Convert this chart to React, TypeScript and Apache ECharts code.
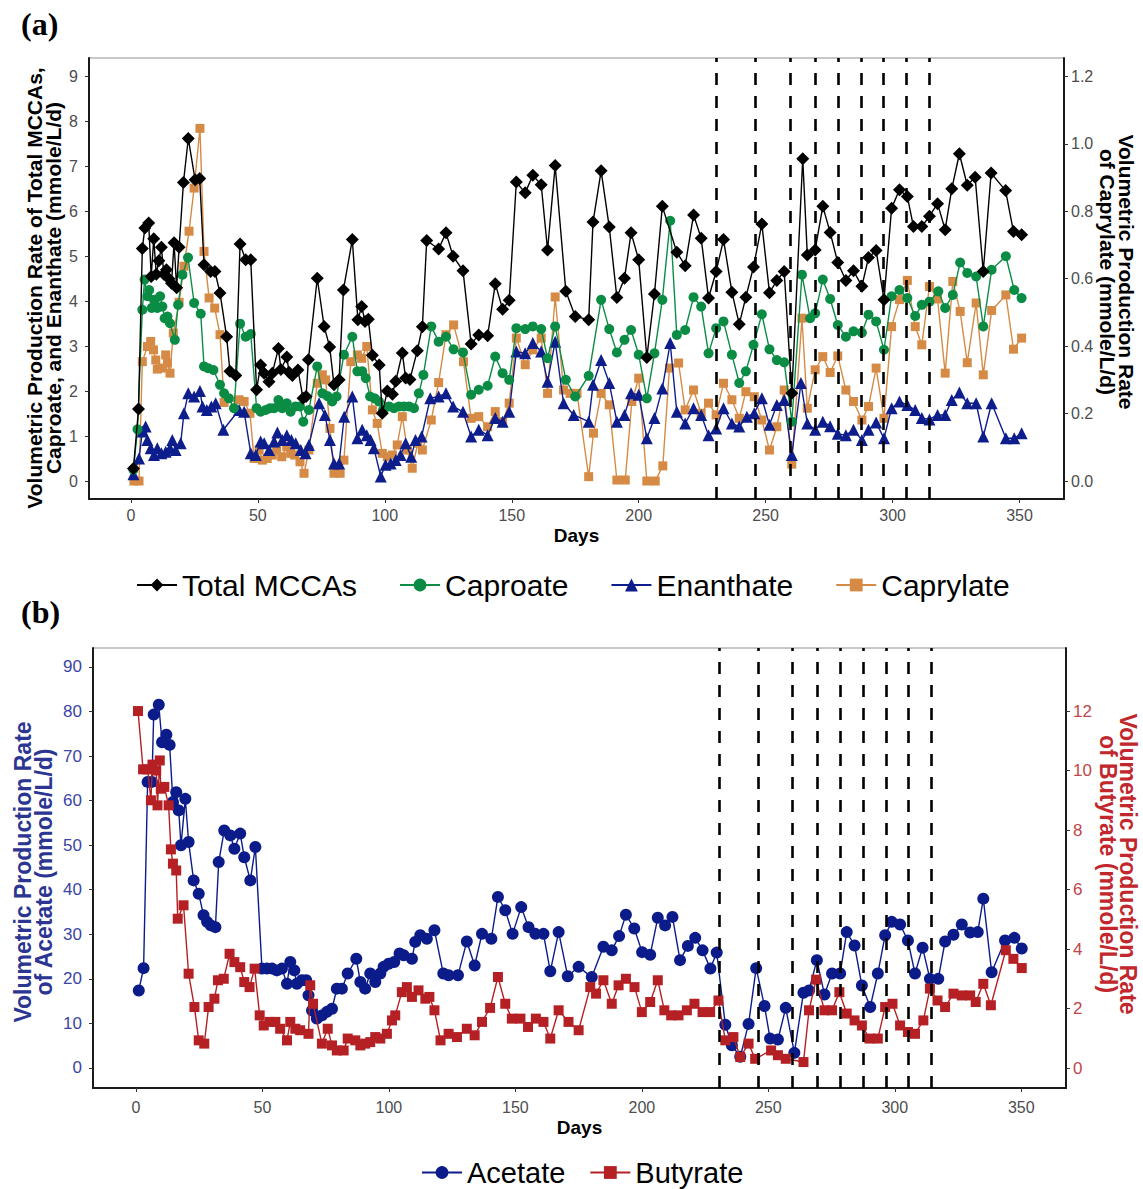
import React, { useEffect, useRef } from "react";
import * as echarts from "echarts";

// ---------- Panel (a) data ----------
const mccaDays = [1, 3, 4.5, 5.5, 7, 8, 9, 10, 11, 12, 13, 14, 15, 16, 17, 18, 19, 20.7, 22.6, 25.3, 27.1, 28.8, 31.4, 33.1, 35.1, 37.7, 39, 41.3, 43, 45.2, 47.2, 49.5, 51.1, 52.5, 54.4, 55.7, 58.1, 59.1, 61.4, 62.3, 63.6, 65.8, 67.8, 69, 69.9, 73.4, 76.1, 78.3, 80, 82, 83.7, 87.2, 89.4, 90.9, 92.2, 93.5, 95.1, 97.8, 99, 101, 103, 104.3, 106.9, 108.2, 109.9, 112.8, 114.8, 116.5, 121.2, 124.1, 126.9, 130.8, 134, 137, 140.5, 143.5, 146.4, 149, 151.8, 155.3, 158.3, 161.6, 164.1, 167.1, 171.3, 175, 180.3, 182, 185.2, 188.4, 191.4, 194.4, 197, 200, 203.2, 206.2, 209.3, 215, 218.3, 221.6, 224.6, 227.5, 230.5, 233.4, 236.7, 239.6, 242.2, 245.2, 248.5, 251.5, 254.4, 257.3, 260.3, 264.6, 266.4, 269.5, 272.5, 275.4, 278.4, 281.6, 284.6, 287.9, 290.5, 293.5, 296.6, 299.6, 302.7, 305.8, 308.2, 311.5, 314.5, 317.7, 320.7, 323.3, 326.3, 329.4, 332.5, 335.7, 338.8, 344.5, 347.6, 350.8];
const mccaValues = [0.28, 1.6, 5.17, 5.63, 5.74, 4.55, 5.39, 4.6, 4.9, 5.2, 4.6, 4.7, 4.5, 4.4, 5.3, 4.3, 5.2, 6.64, 7.62, 6.7, 6.73, 4.81, 4.66, 4.66, 4.18, 3.21, 2.44, 2.35, 5.27, 4.92, 4.92, 2.03, 2.58, 2.4, 2.21, 2.4, 2.95, 2.48, 2.76, 2.42, 2.35, 2.47, 1.84, 1.88, 2.7, 4.51, 3.44, 2.98, 2.14, 2.25, 4.25, 5.37, 3.59, 3.88, 3.55, 3.6, 2.8, 2.58, 1.51, 2.0, 1.93, 2.22, 2.85, 2.29, 2.26, 2.9, 3.43, 5.35, 5.16, 5.52, 5.0, 4.68, 3.05, 3.25, 3.23, 4.39, 3.82, 4.02, 6.65, 6.41, 6.8, 6.59, 5.14, 7.02, 4.22, 3.66, 3.59, 5.76, 6.9, 5.65, 4.08, 4.51, 5.52, 4.92, 2.75, 4.16, 6.11, 5.09, 4.79, 5.92, 5.4, 4.07, 4.66, 5.37, 4.2, 3.49, 4.09, 4.76, 5.72, 4.19, 4.46, 4.66, 1.95, 7.17, 5.03, 5.14, 6.11, 5.53, 4.86, 4.46, 4.68, 4.33, 4.97, 5.13, 4.03, 6.07, 6.48, 6.33, 5.66, 5.66, 5.89, 6.17, 5.59, 6.5, 7.28, 6.58, 6.76, 4.66, 6.85, 6.46, 5.55, 5.48];

const caproateDays = [1, 2.6, 4.5, 5.4, 6.5, 7.2, 8.2, 9.1, 10.4, 11.5, 12.4, 13.3, 14.4, 15.4, 17.3, 18.6, 20.3, 22.5, 24.9, 27.5, 28.8, 30.4, 32.5, 35.1, 36.7, 38.6, 40.6, 43, 45.2, 47.2, 49.5, 51.1, 53.1, 54.8, 56.4, 58.1, 59.6, 61.4, 62.9, 64.9, 66.6, 67.9, 70.1, 73.4, 75.4, 77.4, 79.3, 81, 83.9, 87.2, 89.2, 91.1, 92.5, 94.2, 96, 97.7, 99.3, 101.6, 103.6, 105.6, 107.5, 109.5, 111.5, 113.4, 115.2, 118.3, 121.2, 124.1, 127.1, 130.8, 134, 137, 140.5, 143.5, 146.4, 149, 151.8, 155.3, 158.3, 161.6, 164.1, 167.1, 171.3, 175, 180.3, 185.2, 188.4, 191.4, 194.4, 197, 200, 203.2, 206.2, 209.3, 212.4, 215, 218.3, 221.6, 224.6, 227.5, 230.5, 233.4, 236.7, 239.6, 242.2, 245.2, 248.5, 251.5, 254.4, 257.3, 260.3, 264.3, 267.5, 269.5, 272.5, 275.4, 278.4, 281.6, 284.6, 287.9, 290.5, 293.5, 296.6, 299.6, 302.7, 305.8, 308.9, 311.5, 314.5, 318, 320.7, 323.7, 326.6, 329.4, 332.9, 335.7, 339, 344.6, 347.9, 350.8];
const caproateValues = [0.25, 1.15, 3.81, 4.48, 4.11, 4.25, 3.85, 4.03, 3.85, 4.11, 3.88, 3.62, 3.66, 3.51, 3.14, 3.92, 4.59, 4.97, 3.96, 3.72, 2.55, 2.51, 2.47, 2.14, 1.95, 1.84, 1.62, 3.5, 3.21, 3.27, 1.62, 1.54, 1.58, 1.62, 1.62, 1.8, 1.62, 1.73, 1.54, 1.66, 1.66, 1.32, 1.58, 2.55, 1.95, 1.89, 1.77, 1.88, 2.81, 3.21, 2.44, 2.44, 2.29, 1.88, 1.84, 1.77, 1.58, 1.66, 1.62, 1.66, 1.66, 1.66, 1.62, 1.95, 2.36, 3.44, 3.1, 3.21, 2.93, 2.86, 1.92, 2.03, 2.12, 2.77, 2.4, 2.25, 3.4, 3.38, 3.44, 3.38, 2.73, 3.44, 2.25, 1.88, 2.34, 4.03, 3.38, 2.86, 3.14, 3.36, 2.81, 1.84, 2.84, 4.03, 5.79, 3.25, 3.36, 4.09, 3.88, 2.84, 3.4, 3.55, 2.81, 2.18, 2.44, 3.03, 3.71, 2.93, 2.69, 2.64, 1.32, 4.59, 3.62, 3.73, 4.48, 4.05, 3.47, 3.21, 3.33, 3.3, 3.7, 3.55, 2.92, 4.11, 4.25, 4.07, 3.67, 3.92, 3.99, 4.22, 3.85, 4.14, 4.86, 4.63, 4.55, 3.44, 4.7, 5.0, 4.25, 4.07];

const enanthateDays = [1, 3.2, 4.5, 5.8, 6.5, 7.8, 9.1, 10.4, 12, 13.7, 15.4, 16.3, 17.6, 19.6, 20.9, 22.6, 24.9, 27.2, 28.2, 29.9, 31.7, 33.4, 36.4, 42.6, 44.6, 47.2, 49.2, 51.1, 52.5, 54.4, 56.4, 57.7, 59.6, 61.4, 63.2, 64.9, 66.9, 68.8, 70.1, 74.1, 76.4, 78.4, 80, 82, 84, 87.2, 89.2, 91.1, 92.9, 94.4, 95.7, 98.4, 100.3, 102.3, 104.3, 106.2, 108.2, 110.4, 112.1, 114.5, 117.9, 121.2, 124.1, 126.9, 130.8, 134, 137, 140.5, 143.5, 146.4, 149, 151.8, 155.3, 158.3, 161.6, 164.1, 167.1, 170.4, 174.4, 180.3, 182, 185.2, 188.4, 191.4, 194.4, 197, 200, 203.2, 206.2, 209.3, 212.4, 215, 218.3, 221.6, 224.6, 227.5, 230.5, 233.4, 236.7, 239.6, 242.6, 245.5, 248.5, 251.5, 254.4, 257.3, 260.3, 263.9, 266.4, 269.5, 272.5, 275.4, 278.4, 281.6, 284.6, 287.9, 290.5, 293.5, 296.6, 299.6, 302.7, 305.8, 308.9, 311.5, 314.5, 317.7, 320.7, 323.3, 326.3, 329.4, 332.9, 335.7, 339, 344.6, 347.9, 350.8];
const enanthateValues = [0.15, 0.5, 1.1, 1.21, 0.91, 0.73, 0.58, 0.73, 0.62, 0.65, 0.73, 0.91, 0.69, 0.84, 1.51, 1.95, 1.88, 2.0, 1.66, 1.58, 1.66, 1.73, 1.14, 1.58, 1.54, 0.62, 0.58, 0.88, 0.84, 0.69, 0.88, 1.08, 0.91, 1.02, 0.91, 0.84, 0.69, 0.62, 0.8, 1.73, 1.47, 0.91, 0.39, 0.39, 1.43, 1.88, 0.95, 1.14, 1.02, 0.91, 0.73, 0.1, 0.36, 0.39, 0.47, 0.58, 0.84, 0.54, 0.91, 0.99, 1.84, 1.88, 1.95, 1.66, 1.54, 0.99, 1.14, 1.02, 1.4, 1.32, 1.54, 2.88, 2.84, 3.07, 2.88, 2.21, 3.1, 1.73, 1.47, 1.32, 2.14, 2.69, 2.18, 1.32, 1.47, 1.95, 1.92, 0.95, 1.4, 2.06, 3.07, 1.54, 1.28, 1.62, 1.47, 1.02, 1.17, 1.62, 1.28, 1.21, 1.43, 1.51, 1.84, 1.25, 1.69, 1.8, 0.58, 2.18, 1.28, 1.14, 1.32, 1.22, 1.05, 1.02, 1.14, 0.91, 1.14, 1.3, 0.95, 1.62, 1.77, 1.69, 1.58, 1.4, 1.37, 1.47, 1.47, 1.8, 1.97, 1.73, 1.73, 0.99, 1.73, 0.95, 0.95, 1.06];

const caprylateDays = [1.2, 3.2, 4.5, 6.5, 7.8, 8.9, 9.8, 10.4, 12.4, 13.7, 14.4, 15.4, 16.7, 19, 20.9, 22.9, 24.9, 27.2, 28.8, 30.8, 33, 35.1, 36.7, 42.6, 44.6, 46.9, 48.5, 50.5, 51.8, 53.7, 55.7, 57.4, 59.4, 61.4, 62.9, 64.5, 66.6, 68.2, 70.1, 73.4, 75.4, 76.7, 78.4, 80, 82.4, 83.9, 86.6, 89.2, 90.9, 92.9, 95.1, 97, 99, 101, 103, 104.9, 106.9, 108.9, 110.8, 113, 114.8, 118.3, 121.2, 124.1, 127.1, 131, 134, 137, 140.5, 143.5, 146.4, 149, 151.8, 155.3, 158.3, 161.6, 164.1, 167.1, 170.4, 173, 175.7, 180.3, 182.2, 185.2, 188.4, 191.4, 194.7, 197.3, 200, 203.2, 206.5, 209.5, 212.1, 215.7, 218.3, 221.6, 224.6, 227.5, 230.5, 233.4, 236.7, 239.6, 242.2, 245.5, 248.5, 251.5, 254.4, 257.3, 260.3, 264.3, 266.4, 269.5, 272.5, 275.4, 278.4, 281.6, 284.6, 287.9, 290.5, 293.5, 296.6, 299.6, 302.7, 305.8, 308.9, 311.5, 314.5, 317.7, 320.7, 323.7, 326.6, 329.4, 332.9, 335.7, 339, 344.6, 347.6, 350.8];
const caprylateValues = [0, 0, 0.354, 0.399, 0.414, 0.389, 0.359, 0.332, 0.335, 0.374, 0.35, 0.32, 0.439, 0.53, 0.637, 0.741, 0.869, 1.046, 0.681, 0.543, 0.513, 0.434, 0.233, 0.241, 0.236, 0.201, 0.067, 0.092, 0.062, 0.067, 0.077, 0.092, 0.072, 0.102, 0.082, 0.077, 0.057, 0.023, 0.092, 0.29, 0.315, 0.3, 0.156, 0.023, 0.023, 0.062, 0.354, 0.374, 0.364, 0.399, 0.211, 0.171, 0.082, 0.072, 0.077, 0.107, 0.191, 0.092, 0.038, 0.112, 0.092, 0.181, 0.292, 0.434, 0.463, 0.354, 0.186, 0.191, 0.161, 0.206, 0.176, 0.231, 0.424, 0.345, 0.389, 0.424, 0.26, 0.546, 0.27, 0.26, 0.26, 0.013, 0.142, 0.26, 0.226, 0.003, 0.003, 0.236, 0.305, 0, 0, 0.045, 0.335, 0.35, 0.211, 0.27, 0.201, 0.231, 0.196, 0.29, 0.241, 0.186, 0.265, 0.25, 0.181, 0.092, 0.161, 0.27, 0.05, 0.483, 0.216, 0.33, 0.369, 0.322, 0.371, 0.27, 0.236, 0.181, 0.221, 0.335, 0.186, 0.458, 0.538, 0.595, 0.458, 0.404, 0.577, 0.54, 0.32, 0.592, 0.503, 0.351, 0.528, 0.315, 0.506, 0.552, 0.391, 0.424];

// ---------- Panel (b) data ----------
const acetateDays = [1.1, 3, 4.6, 6.3, 7, 9, 10.3, 12, 13.3, 14.6, 15.9, 16.9, 17.8, 19.5, 20.8, 22.8, 24.8, 26.7, 28.1, 29.6, 31.4, 32.7, 34.9, 37.3, 38.9, 41.2, 42.8, 45.2, 47.2, 49.8, 51.8, 53.8, 55.7, 57.7, 59.7, 61, 62.6, 63.6, 65.6, 67.3, 68.2, 69.6, 71.5, 73.5, 75.5, 77.5, 79.4, 81.4, 83.7, 87.1, 88.7, 90.6, 92.6, 94.6, 96.6, 97.9, 99.9, 102.1, 104.2, 105.8, 109.1, 110.4, 112.4, 115, 118, 121.5, 123.6, 127.3, 130.8, 133.9, 136.8, 140.5, 143.1, 146, 148.9, 152.3, 155.2, 157.9, 161.1, 163.8, 167.1, 170.7, 175, 180.2, 184.8, 188.1, 191, 193.7, 197, 200.1, 203.3, 206.3, 209.2, 212.1, 215.1, 218.2, 221.1, 224, 227.1, 229.6, 233, 235.6, 238.9, 242.2, 245.2, 248.5, 250.7, 253.8, 256.9, 260.3, 263.9, 266.1, 269.2, 272.2, 275.2, 278.4, 281, 284.1, 287, 290.3, 293.3, 296.2, 298.8, 302.1, 305.2, 308, 311, 313.9, 317.2, 319.9, 323.2, 326.5, 329.8, 332.8, 335, 338.3, 343.6, 347.3, 350.2];
const acetateValues = [17.4, 22.4, 64.2, 64.2, 79.3, 81.5, 73.1, 74.8, 72.5, 59.7, 61.9, 57.8, 50, 60.4, 50.7, 42.1, 39.1, 34.3, 32.8, 32, 31.6, 46.2, 53.3, 52.2, 49.2, 52.6, 47.3, 42.1, 49.6, 22.3, 22.3, 22.3, 21.9, 22.3, 18.9, 23.8, 21.9, 18.9, 19.7, 19.7, 16.3, 12.9, 11.1, 11.8, 12.6, 13.3, 17.8, 17.8, 21.2, 24.5, 19.3, 17.8, 21.2, 19.3, 21.2, 22.7, 23.4, 23.8, 25.7, 25.3, 24.5, 28.3, 29.8, 29, 30.9, 21.2, 20.8, 20.8, 28.4, 23, 30.1, 29, 38.4, 35.4, 30.1, 36.1, 31.6, 30.1, 30.1, 21.7, 30.5, 20.6, 22.7, 20.4, 27.2, 26.4, 29.6, 34.4, 31.3, 26, 25.4, 33.7, 32, 33.9, 24.2, 27.4, 29.2, 26.4, 22.3, 25.9, 9.7, 5.1, 2.5, 9.9, 22.4, 13.9, 6.6, 6.4, 13.5, 3.4, 16.9, 17.4, 24.2, 16.5, 21.2, 21.2, 30.5, 27.5, 18.5, 13.7, 21.2, 29.8, 32.8, 32.2, 28.6, 21.2, 27, 20, 20, 28.4, 29.9, 32.2, 30.4, 30.5, 38, 21.5, 28.6, 29.2, 26.8];

const butyrateDays = [0.8, 2.8, 4.6, 5.9, 6.5, 8, 8.5, 9.4, 9.8, 11.2, 12.9, 13.8, 14.6, 15.9, 16.5, 18.8, 20.8, 23.1, 24.8, 27, 28.7, 31, 32.4, 34.7, 37, 38.9, 41.2, 42.8, 44.9, 46.9, 48.9, 50.5, 52.8, 55.1, 57, 59.7, 61, 63, 64.9, 68.2, 68.9, 70, 73.5, 75.8, 77.5, 79.4, 82.1, 83.7, 86.7, 88.7, 90.6, 92.6, 94.6, 96.6, 99.2, 101.2, 102.5, 105.1, 107.1, 109.1, 111.7, 114.4, 116, 118, 120.4, 123.6, 126.9, 130.8, 133.9, 136.8, 140, 143.1, 146, 148.6, 152, 155, 158.1, 161.1, 163.8, 167.1, 171, 175, 179.6, 181.9, 184.8, 188.1, 190.8, 193.7, 197.1, 200, 203.3, 206.3, 208.9, 211.6, 214.5, 217.8, 220.8, 224, 227, 230.3, 233, 236.2, 238.9, 242.2, 244.8, 251.1, 253.8, 256.9, 263.9, 266.1, 268.9, 272.2, 275.2, 278.1, 281, 284.1, 287, 290, 293.3, 296.2, 299.1, 302.1, 305.2, 308, 311.3, 313.9, 316.9, 319.9, 323.2, 326.5, 329.8, 332, 335, 338, 343.9, 346.9, 350.2];
const butyrateValues = [12, 10.04, 10.04, 9, 10.2, 10, 8.83, 10.34, 9.39, 9.45, 8.83, 7.35, 6.87, 6.64, 5.02, 5.47, 3.17, 2.05, 0.93, 0.82, 2.05, 2.33, 2.95, 3, 3.84, 3.56, 3.39, 2.89, 2.72, 3.34, 1.77, 1.43, 1.55, 1.55, 1.32, 0.93, 1.55, 1.32, 1.27, 1.15, 2.78, 2.16, 0.82, 1.32, 0.76, 0.59, 0.59, 0.99, 0.93, 0.76, 0.82, 0.87, 1.04, 0.99, 1.15, 1.6, 1.77, 2.55, 2.72, 2.39, 2.61, 2.33, 2.39, 1.94, 0.93, 1.15, 1.04, 1.32, 1.1, 1.55, 2.02, 3.06, 2.16, 1.66, 1.66, 1.38, 1.66, 1.55, 0.99, 1.94, 1.55, 1.27, 2.72, 2.5, 2.95, 2.16, 2.78, 3, 2.72, 1.88, 2.22, 2.95, 1.94, 1.77, 1.77, 1.94, 2.16, 1.88, 1.88, 2.27, 0.93, 1.04, 0.37, 0.82, 0.31, 0.59, 0.43, 0.31, 0.2, 1.94, 2.97, 1.94, 1.94, 2.55, 1.83, 1.6, 1.43, 0.99, 0.99, 2.05, 2.16, 1.43, 1.21, 1.15, 1.6, 2.67, 2.27, 2.05, 2.5, 2.44, 2.44, 2.22, 2.83, 2.11, 3.96, 3.67, 3.36];

// Vertical dashed reference lines (days)
const dashDays = [230.5, 246, 259.5, 269.5, 278.5, 287.5, 296.5, 305.5, 314.5];

// Tick labels
const dayTicks = [0, 50, 100, 150, 200, 250, 300, 350];
const mccaTicks = [0, 1, 2, 3, 4, 5, 6, 7, 8, 9];
const caprylateTicks = [0, 0.2, 0.4, 0.6, 0.8, 1.0, 1.2];
const acetateTicks = [0, 10, 20, 30, 40, 50, 60, 70, 80, 90];
const butyrateTicks = [0, 2, 4, 6, 8, 10, 12];

const pairs = (xs: number[], ys: number[]) =>
  xs.slice(0, Math.min(xs.length, ys.length)).map((x, i) => [x, ys[i]]);

const FONT = '"Liberation Sans", Arial, Helvetica, sans-serif';

export default function App() {
  const ref = useRef<HTMLDivElement>(null);

  useEffect(() => {
    if (!ref.current) return;
    const chart = echarts.init(ref.current, null, { renderer: "svg" });

    const axisLineStyle = { color: "#1a1a1a", width: 2 };
    const tickGray = "#4d4d4d";

    const xAxisFor = (gridIndex: number, min: number, max: number, margin: number, nameGap: number) => ({
      type: "value",
      gridIndex,
      min,
      max,
      axisLine: { show: true, onZero: false, lineStyle: axisLineStyle },
      axisTick: { show: true, customValues: dayTicks, length: 4, lineStyle: { color: "#333", width: 1 } },
      axisLabel: { customValues: dayTicks, color: tickGray, fontSize: 16, fontFamily: FONT, margin },
      splitLine: { show: false },
      name: "Days",
      nameLocation: "middle",
      nameGap,
      nameTextStyle: { fontWeight: "bold", fontSize: 19, color: "#000", fontFamily: FONT },
    });

    const yAxisFor = (
      gridIndex: number,
      position: string,
      min: number,
      max: number,
      ticks: number[],
      color: string,
      fontSize: number,
      margin: number,
      formatter?: (v: number) => string
    ) => ({
      type: "value",
      gridIndex,
      position,
      min,
      max,
      axisLine: { show: true, onZero: false, lineStyle: axisLineStyle },
      axisTick: { show: true, customValues: ticks, length: 4, lineStyle: { color: "#333", width: 1 } },
      axisLabel: { customValues: ticks, color, fontSize, fontFamily: FONT, margin, formatter },
      splitLine: { show: false },
    });

    const markLineA = {
      silent: true,
      symbol: ["none", "none"],
      label: { show: false },
      lineStyle: { color: "#000", type: [12, 11], width: 2.6 },
      emphasis: { disabled: true },
      data: dashDays.map((d) => ({ xAxis: d })),
    };

    const lineSeries = (
      name: string,
      data: number[][],
      color: string,
      symbol: string,
      symbolSize: number,
      xAxisIndex: number,
      yAxisIndex: number,
      z: number,
      extra: any = {}
    ) => ({
      name,
      type: "line",
      data,
      xAxisIndex,
      yAxisIndex,
      symbol,
      symbolSize,
      showSymbol: true,
      z,
      itemStyle: { color },
      lineStyle: { color, width: 1.4 },
      emphasis: { disabled: true },
      ...extra,
    });

    const option: any = {
      animation: false,
      backgroundColor: "#ffffff",
      textStyle: { fontFamily: FONT },
      grid: [
        { left: 89, top: 58, width: 975, height: 441, show: true, borderColor: "#8f8f8f", borderWidth: 1, backgroundColor: "transparent" },
        { left: 93, top: 648, width: 973, height: 440, show: true, borderColor: "#8f8f8f", borderWidth: 1, backgroundColor: "transparent" },
      ],
      xAxis: [xAxisFor(0, -16.5, 367.5, 8, 27), xAxisFor(1, -17, 367.7, 11, 30)],
      yAxis: [
        yAxisFor(0, "left", -0.4, 9.41, mccaTicks, tickGray, 16, 11),
        yAxisFor(0, "right", -0.0533, 1.2547, caprylateTicks, tickGray, 16, 7, (v: number) => v.toFixed(1)),
        yAxisFor(1, "left", -4.49, 94.25, acetateTicks, "#3b45a3", 17, 11),
        yAxisFor(1, "right", -0.672, 14.12, butyrateTicks, "#c0464a", 17, 7),
      ],
      legend: [
        {
          data: ["Total MCCAs", "Caproate", "Enanthate", "Caprylate"],
          left: 131,
          top: 565,
          itemWidth: 40,
          itemHeight: 16,
          itemGap: 42,
          textStyle: { fontSize: 30, color: "#000", fontFamily: FONT },
        },
        {
          data: ["Acetate", "Butyrate"],
          left: 416,
          top: 1153,
          itemWidth: 40,
          itemHeight: 16,
          itemGap: 24,
          textStyle: { fontSize: 29, color: "#000", fontFamily: FONT },
        },
      ],
      series: [
        lineSeries("Caprylate", pairs(caprylateDays, caprylateValues), "#d58b45", "rect", 9, 0, 1, 2, { markLine: markLineA }),
        lineSeries("Enanthate", pairs(enanthateDays, enanthateValues), "#0e1d8c", "triangle", 12, 0, 0, 3),
        lineSeries("Caproate", pairs(caproateDays, caproateValues), "#0a8c45", "circle", 10, 0, 0, 4),
        lineSeries("Total MCCAs", pairs(mccaDays, mccaValues), "#000000", "diamond", 13, 0, 0, 5),
        lineSeries("Acetate", pairs(acetateDays, acetateValues), "#0b1c8a", "circle", 12, 1, 2, 3, { markLine: markLineA }),
        lineSeries("Butyrate", pairs(butyrateDays, butyrateValues), "#b52024", "rect", 10, 1, 3, 4),
      ],
      graphic: [
        { type: "text", left: 21, top: 8, style: { text: "(a)", font: 'bold 32px "Liberation Serif", "Times New Roman", serif', fill: "#000" } },
        { type: "text", left: 21, top: 596, style: { text: "(b)", font: 'bold 32px "Liberation Serif", "Times New Roman", serif', fill: "#000" } },
        {
          type: "text",
          x: 44,
          y: 288,
          rotation: Math.PI / 2,
          style: {
            text: "Volumetric Production Rate of Total MCCAs,\nCaproate, and Enanthate (mmole/L/d)",
            font: `bold 21px ${FONT}`,
            fill: "#000",
            align: "center",
            verticalAlign: "middle",
            lineHeight: 19,
          },
        },
        {
          type: "text",
          x: 1117,
          y: 272,
          rotation: -Math.PI / 2,
          style: {
            text: "Volumetric Production Rate\nof Caprylate (mmole/L/d)",
            font: `bold 21px ${FONT}`,
            fill: "#000",
            align: "center",
            verticalAlign: "middle",
            lineHeight: 19,
          },
        },
        {
          type: "text",
          x: 33,
          y: 872,
          rotation: Math.PI / 2,
          style: {
            text: "Volumetric Production Rate\nof Acetate (mmole/L/d)",
            font: `bold 23px ${FONT}`,
            fill: "#2c3592",
            align: "center",
            verticalAlign: "middle",
            lineHeight: 21,
          },
        },
        {
          type: "text",
          x: 1118,
          y: 864,
          rotation: -Math.PI / 2,
          style: {
            text: "Volumetric Production Rate\nof Butyrate (mmole/L/d)",
            font: `bold 23px ${FONT}`,
            fill: "#c1272d",
            align: "center",
            verticalAlign: "middle",
            lineHeight: 20,
          },
        },
      ],
    };

    chart.setOption(option);
    return () => chart.dispose();
  }, []);

  return (
    <div
      ref={ref}
      style={{ position: "absolute", left: 0, top: 0, width: 1143, height: 1189, background: "#fff" }}
    />
  );
}
